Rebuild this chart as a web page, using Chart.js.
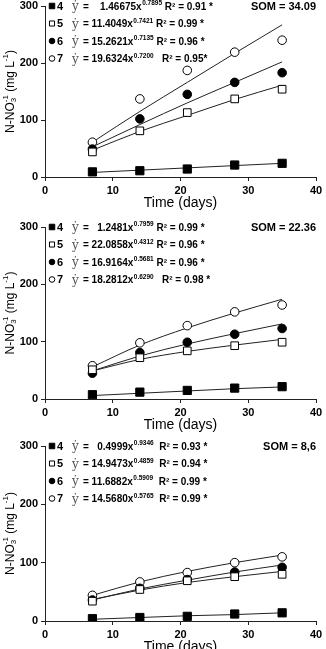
<!DOCTYPE html>
<html>
<head>
<meta charset="utf-8">
<script src="https://cdn.jsdelivr.net/npm/chart.js@4.4.0/dist/chart.umd.min.js"></script>
<style>
  body { margin: 0; width: 326px; height: 649px; overflow: hidden; background: #fff; position: relative; }
  .panel { position: absolute; left: 0; width: 326px; }
</style>
</head>
<body>
<div class="panel" style="top:-4px"><canvas id="c1" width="326" height="217"></canvas></div>
<div class="panel" style="top:217px"><canvas id="c2" width="326" height="218"></canvas></div>
<div class="panel" style="top:436px"><canvas id="c3" width="326" height="221"></canvas></div>
<script>
// sampling days and axis ticks
let days = [7, 14, 21, 28, 35];
let xTicks = [0, 10, 20, 30, 40];
let yTicks = [0, 100, 200, 300];
let seriesNames = ['4', '5', '6', '7'];

// panel 1 (SOM = 34.09) measured values
let obs1_4 = [9, 11, 14, 21, 24];
let obs1_5 = [44, 81, 113, 137, 154];
let obs1_6 = [49, 102, 145, 166, 183];
let obs1_7 = [61, 137, 187, 219, 240];
// panel 1 fitted curves
let fit1_4 = [8, 12, 16, 20, 24];
let fit1_5 = [47, 80, 108, 136, 161];
let fit1_6 = [53, 92, 130, 166, 202];
let fit1_7 = [61, 115, 166, 217, 267];

// panel 2 (SOM = 22.36)
let obs2_4 = [7.5, 12, 15, 19, 21.5];
let obs2_5 = [51, 72, 84, 93, 99];
let obs2_6 = [45, 81, 99, 113, 123];
let obs2_7 = [58, 98, 128, 152, 164];
let fit2_4 = [6, 10, 14, 18, 21];
let fit2_5 = [49, 69, 83, 94, 104];
let fit2_6 = [49, 75, 96, 114, 131];
let fit2_7 = [56, 94, 124, 150, 174];

// panel 3 (SOM = 8,6)
let obs3_4 = [4, 6, 8, 12, 14];
let obs3_5 = [34, 54, 69, 76, 80];
let obs3_6 = [36, 56, 71, 84, 92];
let obs3_7 = [44, 67, 83, 100, 110];
let fit3_4 = [3, 6, 9, 11, 14];
let fit3_5 = [37, 53, 66, 76, 85];
let fit3_6 = [36, 55, 70, 84, 96];
let fit3_7 = [44, 67, 85, 100, 113];

// equation text: [coefficient part, exponent, R2 part]
let eq1 = [['=    1.46675x', '0.7895', ' R\u00b2 = 0.91 *'],
           ['= 11.4049x', '0.7421', ' R\u00b2 = 0.99 *'],
           ['= 15.2621x', '0.7135', ' R\u00b2 = 0.96 *'],
           ['= 19.6324x', '0.7200', '   R\u00b2 = 0.95*']];
let eq2 = [['=   1.2481x', '0.7959', ' R\u00b2 = 0.99 *'],
           ['= 22.0858x', '0.4312', ' R\u00b2 = 0.96 *'],
           ['= 16.9164x', '0.5681', ' R\u00b2 = 0.96 *'],
           ['= 18.2812x', '0.6290', '   R\u00b2 = 0.98 *']];
let eq3 = [['=   0.4999x', '0.9346', '  R\u00b2 = 0.93 *'],
           ['= 14.9473x', '0.4859', '  R\u00b2 = 0.94 *'],
           ['= 11.6882x', '0.5909', '  R\u00b2 = 0.99 *'],
           ['= 14.5680x', '0.5765', '  R\u00b2 = 0.99 *']];

let som1 = 'SOM = 34.09';
let som2 = 'SOM = 22.36';
let som3 = 'SOM = 8,6';

const SANS = "'Liberation Sans', Arial, sans-serif";

// marker look for series 4..7
let markers = [
  { pointStyle: 'rect', radius: 5.8, legendRadius: 3.9, fill: '#000' },
  { pointStyle: 'rect', radius: 5.4, legendRadius: 3.6, fill: '#fff' },
  { pointStyle: 'circle', radius: 4.3, legendRadius: 2.8, fill: '#000' },
  { pointStyle: 'circle', radius: 4.3, legendRadius: 2.8, fill: '#fff' }
];

// draws legend rows, equations, SOM label and the y axis title
const annotations = {
  id: 'annotations',
  afterDraw(chart, args, opts) {
    let ctx = chart.ctx;
    let area = chart.chartArea;
    let rowOffsets = [0, 17.5, 35, 52.5];
    ctx.save();
    ctx.textBaseline = 'middle';

    opts.eq.forEach((row, i) => {
      let y = area.top + rowOffsets[i];
      let m = markers[i];
      ctx.fillStyle = m.fill;
      ctx.strokeStyle = '#000';
      ctx.lineWidth = 1;
      ctx.beginPath();
      if (m.pointStyle === 'rect') {
        let s = m.legendRadius * Math.SQRT1_2;
        ctx.rect(52 - s, y - s, 2 * s, 2 * s);
      } else {
        ctx.arc(52, y, m.legendRadius, 0, Math.PI * 2);
      }
      ctx.fill();
      ctx.stroke();

      ctx.fillStyle = '#000';
      ctx.textAlign = 'left';
      ctx.font = 'bold 11px ' + SANS;
      ctx.fillText(seriesNames[i], 57, y + 0.5);

      // y-hat in a light serif
      ctx.fillStyle = '#555';
      ctx.font = "12px 'DejaVu Serif', 'Liberation Serif', serif";
      ctx.textBaseline = 'alphabetic';
      ctx.fillText('\u1e8f', 72, y + 4);

      ctx.fillStyle = '#000';
      ctx.font = 'bold 10px ' + SANS;
      let x = 83;
      let base = y + 3.6;
      ctx.fillText(row[0], x, base);
      x += ctx.measureText(row[0]).width + 0.5;
      ctx.font = 'bold 6.5px ' + SANS;
      ctx.fillText(row[1], x, base - 4.2);
      x += ctx.measureText(row[1]).width;
      ctx.font = 'bold 10px ' + SANS;
      ctx.fillText(row[2], x, base);
      ctx.textBaseline = 'middle';
    });

    ctx.fillStyle = '#000';
    ctx.textAlign = 'right';
    ctx.font = 'bold 11px ' + SANS;
    ctx.fillText(opts.som, 316, area.top + 0.5);

    // rotated y axis title: N-NO3^-1 (mg L^-1)
    let parts = [
      ['N-NO', 12, 0], ['3', 8, 3], ['-1', 8, -5], [' (mg L', 12, 0], ['-1', 8, -5], [')', 12, 0]
    ];
    ctx.save();
    ctx.translate(10, (area.top + area.bottom) / 2);
    ctx.rotate(-Math.PI / 2);
    ctx.textAlign = 'left';
    ctx.textBaseline = 'middle';
    let total = 0;
    parts.forEach((p, k) => {
      ctx.font = p[1] + 'px ' + SANS;
      if (k !== 1) total += ctx.measureText(p[0]).width;
    });
    let px = -total / 2;
    parts.forEach((p, k) => {
      ctx.font = p[1] + 'px ' + SANS;
      ctx.fillText(p[0], px, p[2] + 0.5);
      if (k !== 1) px += ctx.measureText(p[0]).width;
    });
    ctx.restore();
    ctx.restore();
  }
};

function toPoints(vals) {
  return days.map((d, i) => ({ x: d, y: vals[i] }));
}

function makeChart(id, obs, fits, eq, som) {
  let datasets = [];
  obs.forEach((vals, i) => {
    datasets.push({
      type: 'scatter',
      data: toPoints(vals),
      pointStyle: markers[i].pointStyle,
      pointRadius: markers[i].radius,
      backgroundColor: markers[i].fill,
      borderColor: '#000',
      borderWidth: 1,
      order: 0
    });
  });
  fits.forEach((vals) => {
    datasets.push({
      type: 'line',
      data: toPoints(vals),
      borderColor: '#222',
      borderWidth: 1,
      pointRadius: 0,
      cubicInterpolationMode: 'monotone',
      fill: false,
      order: 1
    });
  });

  let tickFont = { family: SANS, size: 11, weight: 'bold' };

  return new Chart(document.getElementById(id), {
    type: 'scatter',
    data: { datasets: datasets },
    plugins: [annotations],
    options: {
      responsive: false,
      animation: false,
      layout: { padding: { top: 10, right: 10, left: 0, bottom: 0 } },
      plugins: {
        legend: { display: false },
        tooltip: { enabled: false },
        annotations: { eq: eq, som: som }
      },
      scales: {
        x: {
          type: 'linear', min: 0, max: 40,
          afterBuildTicks: (s) => { s.ticks = xTicks.map(v => ({ value: v })); },
          grid: { drawOnChartArea: false, tickLength: 4, color: '#222' },
          border: { color: '#222', width: 1 },
          ticks: { font: tickFont, color: '#000', padding: 3, maxRotation: 0 },
          title: {
            display: true, text: 'Time (days)', color: '#000',
            font: { family: SANS, size: 14 }, padding: { top: 0, bottom: 1 }
          },
          afterFit: (s) => { s.height = 36; }
        },
        y: {
          type: 'linear', min: 0, max: 300,
          afterBuildTicks: (s) => { s.ticks = yTicks.map(v => ({ value: v })); },
          grid: { drawOnChartArea: false, tickLength: 4, color: '#222' },
          border: { color: '#222', width: 1 },
          ticks: { font: tickFont, color: '#000', padding: 3 },
          afterFit: (s) => { s.width = 45; }
        }
      }
    }
  });
}

makeChart('c1', [obs1_4, obs1_5, obs1_6, obs1_7], [fit1_4, fit1_5, fit1_6, fit1_7], eq1, som1);
makeChart('c2', [obs2_4, obs2_5, obs2_6, obs2_7], [fit2_4, fit2_5, fit2_6, fit2_7], eq2, som2);
makeChart('c3', [obs3_4, obs3_5, obs3_6, obs3_7], [fit3_4, fit3_5, fit3_6, fit3_7], eq3, som3);
</script>
</body>
</html>
